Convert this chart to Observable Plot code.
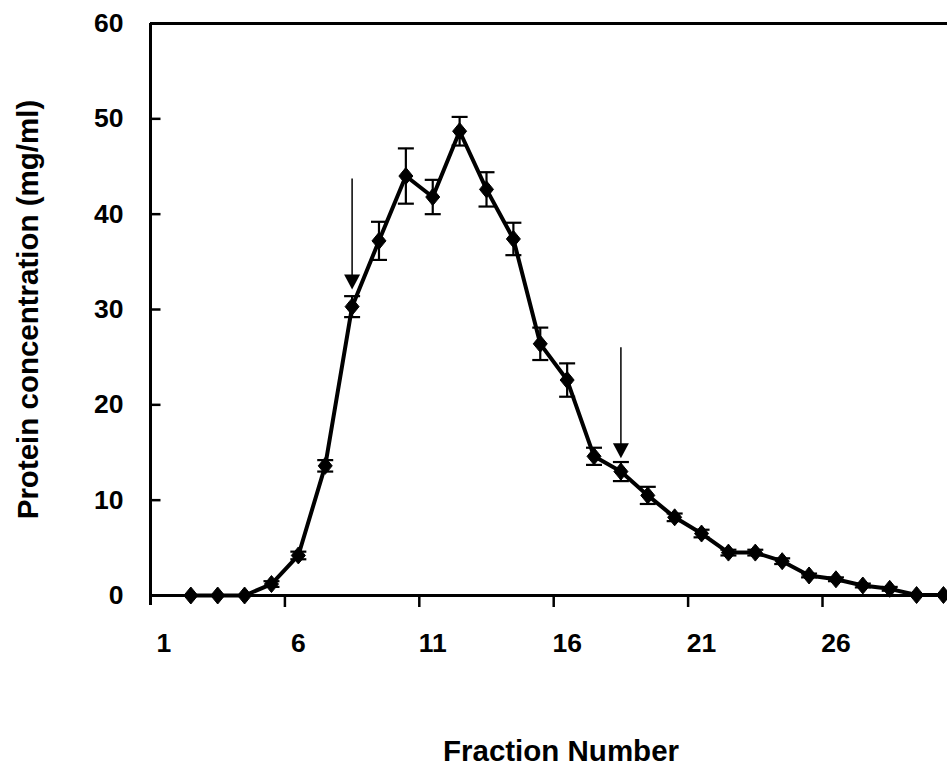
<!DOCTYPE html>
<html>
<head>
<meta charset="utf-8">
<script src="https://cdn.jsdelivr.net/npm/d3@7"></script>
<script src="https://cdn.jsdelivr.net/npm/@observablehq/plot@0.6"></script>
<style>
  html, body { margin: 0; padding: 0; background: #fff; }
  #chart { width: 947px; height: 773px; overflow: hidden; }
</style>
</head>
<body>
<div id="chart"></div>
<script>
// ---- data ----
const fractions = [2, 3, 4, 5, 6, 7, 8, 9, 10, 11, 12, 13, 14, 15, 16, 17, 18, 19, 20, 21, 22, 23, 24, 25, 26, 27, 28, 29, 30];
const protein   = [0, 0, 0, 1.2, 4.2, 13.6, 30.3, 37.2, 44.0, 41.8, 48.7, 42.6, 37.4, 26.4, 22.6, 14.6, 13.0, 10.5, 8.2, 6.5, 4.5, 4.5, 3.6, 2.1, 1.7, 1.05, 0.7, 0.05, 0.05];
const errorBars = [0, 0, 0, 0.3, 0.4, 0.6, 1.1, 2.0, 2.9, 1.8, 1.5, 1.8, 1.7, 1.7, 1.75, 0.9, 1.0, 0.9, 0.4, 0.4, 0.3, 0.3, 0.3, 0.2, 0.2, 0.2, 0.2, 0, 0];
const xTickLabels = [1, 6, 11, 16, 21, 26];
const xTickMarks  = [5.5, 10.5, 15.5, 20.5, 25.5];
const yTicks      = [0, 10, 20, 30, 40, 50, 60];
const arrowX    = [8, 18];
const arrowFrom = [43.7, 26.0];
const arrowTo   = [32.1, 14.4];
const xTitle = "Fraction Number";
const yTitle = "Protein concentration (mg/ml)";

// ---- derived tables ----
const points = fractions.map((f, i) => ({f, v: protein[i], e: errorBars[i]}));
const bars = points.filter(d => d.e > 0);
const arrows = arrowX.map((x, i) => ({x, from: arrowFrom[i], to: arrowTo[i]}));

// ---- custom symbols ----
const diamond = {draw(ctx) { ctx.moveTo(0, -8.5); ctx.lineTo(7, 0); ctx.lineTo(0, 8.5); ctx.lineTo(-7, 0); ctx.closePath(); }};
const cap = {draw(ctx) { ctx.moveTo(-8, 0); ctx.lineTo(8, 0); }};
const tickRight = {draw(ctx) { ctx.moveTo(0, 0); ctx.lineTo(10, 0); }};
const head = {draw(ctx) { ctx.moveTo(0, 0); ctx.lineTo(-8, -15); ctx.lineTo(8, -15); ctx.closePath(); }};

const font = "'Liberation Sans', Arial, Helvetica, sans-serif";

const chart = Plot.plot({
  width: 947,
  height: 773,
  marginLeft: 150,
  marginRight: 0,
  marginTop: 23,
  marginBottom: 178,
  style: {fontFamily: font, fontWeight: "bold", color: "black", background: "white", overflow: "visible"},
  x: {domain: [0.5, 30.15]},
  y: {domain: [0, 60]},
  marks: [
    Plot.axisX(xTickLabels, {tickSize: 0, tickPadding: 38, fontSize: 26.5, fontWeight: "bold", label: null}),
    Plot.axisX(xTickMarks, {tickSize: 12, strokeWidth: 2.5, tickFormat: () => "", label: null}),
    Plot.axisY(yTicks, {tickSize: 0, tickPadding: 27, fontSize: 26.5, fontWeight: "bold", label: null}),
    Plot.dot(yTicks, {y: d => d, frameAnchor: "left", symbol: tickRight, stroke: "black", strokeWidth: 2.5, fill: "none"}),
    Plot.ruleY([0], {stroke: "black", strokeWidth: 3}),
    Plot.ruleY([60], {stroke: "black", strokeWidth: 3}),
    Plot.ruleX([0.5], {stroke: "black", strokeWidth: 3, insetBottom: -10}),
    // error bars
    Plot.ruleX(bars, {x: "f", y1: d => d.v - d.e, y2: d => d.v + d.e, stroke: "black", strokeWidth: 2.2}),
    Plot.dot(bars, {x: "f", y: d => d.v + d.e, symbol: cap, stroke: "black", strokeWidth: 2.2, fill: "none"}),
    Plot.dot(bars, {x: "f", y: d => d.v - d.e, symbol: cap, stroke: "black", strokeWidth: 2.2, fill: "none"}),
    // series
    Plot.line(points, {x: "f", y: "v", stroke: "black", strokeWidth: 4, strokeLinejoin: "round"}),
    Plot.dot(points, {x: "f", y: "v", symbol: diamond, fill: "black", stroke: "black", strokeWidth: 1}),
    // arrows
    Plot.ruleX(arrows, {x: "x", y1: "from", y2: "to", stroke: "black", strokeWidth: 1.5, insetBottom: 6}),
    Plot.dot(arrows, {x: "x", y: "to", symbol: head, fill: "black", stroke: "none"}),
    // titles
    Plot.text([xTitle], {text: d => d, frameAnchor: "bottom", textAnchor: "middle", dx: 12, dy: 156, fontSize: 29.5, fontWeight: "bold", lineAnchor: "middle"}),
    Plot.text([yTitle], {text: d => d, frameAnchor: "left", textAnchor: "middle", dx: -122, rotate: -90, fontSize: 29.5, fontWeight: "bold", lineAnchor: "middle"})
  ]
});
document.getElementById("chart").appendChild(chart);
</script>
</body>
</html>
